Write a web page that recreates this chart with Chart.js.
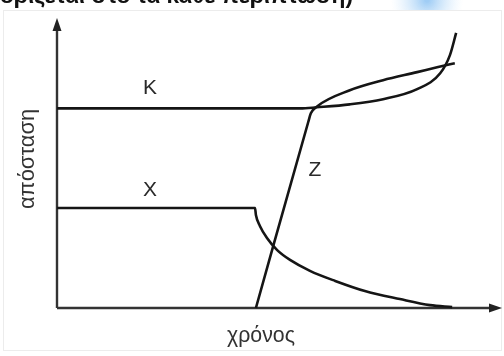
<!DOCTYPE html>
<html>
<head>
<meta charset="utf-8">
<script src="https://cdn.jsdelivr.net/npm/chart.js@4.4.1/dist/chart.umd.min.js"></script>
<style>
  html, body { margin: 0; padding: 0; background: #fff; }
  #wrap { width: 504px; height: 356px; }
</style>
</head>
<body>
<div id="wrap"><canvas id="myChart" width="504" height="356"></canvas></div>
<script>
// curve K : stays put, then takes off
var kTime = [0, 5.49, 5.87, 6.61, 7.36, 8.13, 8.65, 8.87, 9.01];
var kDist = [6.93, 6.93, 6.97, 7.07, 7.25, 7.60, 8.15, 8.78, 9.55];

// curve X : flat, then falls away
var xTime = [0, 4.47, 4.49, 4.58, 4.74, 4.97, 5.26, 5.71, 6.28, 6.95, 7.74, 8.42, 8.92];
var xDist = [3.47, 3.47, 3.23, 2.85, 2.43, 2.01, 1.67, 1.29, 0.94, 0.59, 0.31, 0.10, 0.03];

// curve Z : steep line from the time axis, then bends over
var zTime = [4.49, 5.67, 5.73, 5.87, 6.61, 7.36, 8.13, 8.58, 8.98];
var zDist = [0, 6.45, 6.76, 7.00, 7.56, 7.91, 8.19, 8.36, 8.50];

var curveNames = ['K', 'X', 'Z'];
var namePos = [[2.10, 7.63], [2.10, 4.08], [5.82, 4.77]];

var yTitle = 'απόσταση';
var xTitle = 'χρόνος';
var topText = 'ορίζεται στο τα κάθε περίπτωση)';

function pts(t, d) {
  var out = [];
  for (var i = 0; i < t.length; i++) out.push({ x: t[i], y: d[i] });
  return out;
}

function line(data) {
  return {
    data: data,
    showLine: true,
    borderColor: '#151515',
    borderWidth: 2.6,
    pointRadius: 0,
    fill: false,
    cubicInterpolationMode: 'monotone',
    clip: false
  };
}

// write text stretched to a given width
function fitText(ctx, txt, size, width) {
  ctx.font = size + 'px "Liberation Sans", Arial, sans-serif';
  var w = ctx.measureText(txt).width;
  ctx.font = (size * width / w).toFixed(1) + 'px "Liberation Sans", Arial, sans-serif';
  ctx.fillText(txt, 0, 0);
}

var sketch = {
  id: 'sketch',
  beforeDraw: function (chart) {
    var ctx = chart.ctx;
    ctx.save();
    // bluish smudge at the top
    var g = ctx.createRadialGradient(427, 0, 2, 427, 0, 36);
    g.addColorStop(0, 'rgba(160,205,245,1)');
    g.addColorStop(1, 'rgba(215,235,252,0)');
    ctx.fillStyle = g;
    ctx.fillRect(385, 0, 85, 10);
    // cut off text of the page above
    ctx.fillStyle = '#111';
    ctx.font = 'bold 22px "Liberation Sans", Arial, sans-serif';
    ctx.textBaseline = 'alphabetic';
    var w = ctx.measureText(topText).width;
    ctx.translate(0, 3);
    ctx.scale(353 / w, 1);
    ctx.fillText(topText, 0, 0);
    ctx.restore();

    ctx.save();
    ctx.fillStyle = '#fff';
    ctx.fillRect(0, 10, 504, 346);
    ctx.strokeStyle = '#ececec';
    ctx.lineWidth = 1;
    ctx.strokeRect(3.5, 10.5, 498, 340);
    ctx.restore();
  },
  beforeDatasetsDraw: function (chart) {
    var ctx = chart.ctx;
    var xs = chart.scales.x, ys = chart.scales.y;
    var x0 = xs.getPixelForValue(0), y0 = ys.getPixelForValue(0);
    var xEnd = xs.getPixelForValue(10), yEnd = ys.getPixelForValue(10);
    ctx.save();
    ctx.strokeStyle = '#333';
    ctx.fillStyle = '#222';
    ctx.lineWidth = 2.4;
    ctx.beginPath();
    ctx.moveTo(x0, y0);
    ctx.lineTo(x0, yEnd + 8);
    ctx.moveTo(x0, y0);
    ctx.lineTo(xEnd - 8, y0);
    ctx.stroke();
    // arrow heads
    ctx.beginPath();
    ctx.moveTo(x0, yEnd - 2);
    ctx.lineTo(x0 - 4.5, yEnd + 11);
    ctx.lineTo(x0 + 4.5, yEnd + 11);
    ctx.closePath();
    ctx.fill();
    ctx.beginPath();
    ctx.moveTo(xEnd + 2, y0);
    ctx.lineTo(xEnd - 11, y0 - 4.5);
    ctx.lineTo(xEnd - 11, y0 + 4.5);
    ctx.closePath();
    ctx.fill();
    ctx.restore();
  },
  afterDatasetsDraw: function (chart) {
    var ctx = chart.ctx;
    var xs = chart.scales.x, ys = chart.scales.y;
    ctx.save();
    ctx.fillStyle = '#2a2a2a';
    ctx.textAlign = 'center';
    ctx.textBaseline = 'middle';
    ctx.font = '21px "Liberation Sans", Arial, sans-serif';
    for (var i = 0; i < curveNames.length; i++) {
      ctx.fillText(curveNames[i], xs.getPixelForValue(namePos[i][0]), ys.getPixelForValue(namePos[i][1]));
    }
    ctx.fillStyle = '#333';
    ctx.save();
    ctx.translate(261, 336);
    fitText(ctx, xTitle, 16, 68);
    ctx.restore();
    ctx.translate(28, 159);
    ctx.rotate(-Math.PI / 2);
    fitText(ctx, yTitle, 16, 100);
    ctx.restore();
  }
};

new Chart(document.getElementById('myChart'), {
  type: 'scatter',
  data: {
    datasets: [
      line(pts(kTime, kDist)),
      line(pts(xTime, xDist)),
      line(pts(zTime, zDist))
    ]
  },
  options: {
    responsive: false,
    animation: false,
    layout: { padding: { left: 57, right: 4, top: 20, bottom: 48 } },
    scales: {
      x: { type: 'linear', min: 0, max: 10, display: false },
      y: { type: 'linear', min: 0, max: 10, display: false }
    },
    plugins: { legend: { display: false }, tooltip: { enabled: false } }
  },
  plugins: [sketch]
});
</script>
</body>
</html>
